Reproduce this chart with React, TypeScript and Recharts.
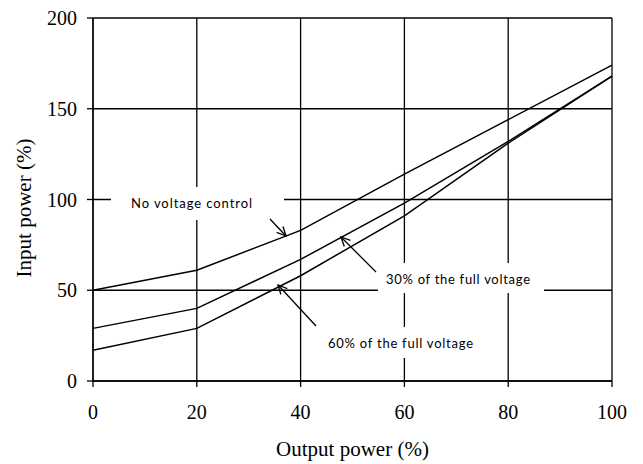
import { LineChart, Line, XAxis, YAxis, CartesianGrid } from 'recharts';

// x: output power (%)
const outputPower = [0, 20, 40, 60, 80, 100];
// y: input power (%) for each control mode
const noVoltageControl = [50, 61, 83, 114, 144, 174];
const voltage30 = [29, 40, 67, 98, 132, 168];
const voltage60 = [17, 29, 58, 91, 131, 168];

const xTicks = [0, 20, 40, 60, 80, 100];
const yTicks = [0, 50, 100, 150, 200];

const data = outputPower.map((x, i) => ({
    x,
    none: noVoltageControl[i],
    v30: voltage30[i],
    v60: voltage60[i],
}));

const W = 643;
const H = 464;
const serif = '"Liberation Serif", "Times New Roman", serif';
const sans = 'Lato, "Open Sans", sans-serif';

function Arrow({ x1, y1, x2, y2 }: { x1: number; y1: number; x2: number; y2: number }) {
    const a = Math.atan2(y2 - y1, x2 - x1);
    const len = 10;
    const spread = 0.45;
    const p1 = [x2 - len * Math.cos(a - spread), y2 - len * Math.sin(a - spread)];
    const p2 = [x2 - len * Math.cos(a + spread), y2 - len * Math.sin(a + spread)];
    return (
        <g stroke="#000" strokeWidth={1.3} fill="none">
            <line x1={x1} y1={y1} x2={x2} y2={y2} />
            <polyline points={`${p1[0]},${p1[1]} ${x2},${y2} ${p2[0]},${p2[1]}`} />
        </g>
    );
}

function Annotations() {
    return (
        <svg width={W} height={H} style={{ position: 'absolute', left: 0, top: 0, pointerEvents: 'none' }}>
            {/* label boxes hide the grid behind the text */}
            <rect x={111} y={187} width={173} height={33} fill="#fff" />
            <rect x={378} y={263} width={166} height={30} fill="#fff" />
            <rect x={316} y={327} width={165} height={31} fill="#fff" />
            <g fontFamily={sans} fontSize={13} fill="#000">
                <text x={131} y={208} textLength={121}>No voltage control</text>
                <text x={386} y={284} textLength={144}>30% of the full voltage</text>
                <text x={328} y={348} textLength={145}>60% of the full voltage</text>
            </g>
            <Arrow x1={270} y1={219} x2={286} y2={236} />
            <Arrow x1={376} y1={272} x2={341} y2={237} />
            <Arrow x1={316} y1={326} x2={278} y2={285} />
        </svg>
    );
}

export default function App() {
    return (
        <div style={{ position: 'absolute', left: 0, top: 0, width: W, height: H, background: '#fff' }}>
            <LineChart
                width={W}
                height={H}
                data={data}
                margin={{ top: 18, right: 31, left: 33, bottom: 23 }}
            >
                <CartesianGrid stroke="#000" strokeWidth={1.3} horizontalValues={yTicks} verticalValues={xTicks} />
                <XAxis
                    dataKey="x"
                    type="number"
                    domain={[0, 100]}
                    ticks={xTicks}
                    height={60}
                    stroke="#000"
                    strokeWidth={1.3}
                    tickSize={6}
                    tickMargin={18}
                    tick={{ fill: '#000', fontSize: 20, fontFamily: serif }}
                    label={({ viewBox }: any) => (
                        <text
                            x={viewBox.x + viewBox.width / 2}
                            y={456}
                            textAnchor="middle"
                            fontSize={21}
                            fontFamily={serif}
                            fill="#000"
                        >
                            Output power (%)
                        </text>
                    )}
                />
                <YAxis
                    type="number"
                    domain={[0, 200]}
                    ticks={yTicks}
                    width={60}
                    stroke="#000"
                    strokeWidth={1.3}
                    tickSize={6}
                    tickMargin={10}
                    tick={{ fill: '#000', fontSize: 20, fontFamily: serif }}
                    label={() => (
                        <text
                            x={0}
                            y={0}
                            transform="translate(31,208) rotate(-90)"
                            textAnchor="middle"
                            fontSize={21}
                            fontFamily={serif}
                            fill="#000"
                        >
                            Input power (%)
                        </text>
                    )}
                />
                <Line dataKey="none" stroke="#000" strokeWidth={1.5} dot={false} type="linear" isAnimationActive={false} />
                <Line dataKey="v30" stroke="#000" strokeWidth={1.5} dot={false} type="linear" isAnimationActive={false} />
                <Line dataKey="v60" stroke="#000" strokeWidth={1.5} dot={false} type="linear" isAnimationActive={false} />
            </LineChart>
            <Annotations />
        </div>
    );
}
